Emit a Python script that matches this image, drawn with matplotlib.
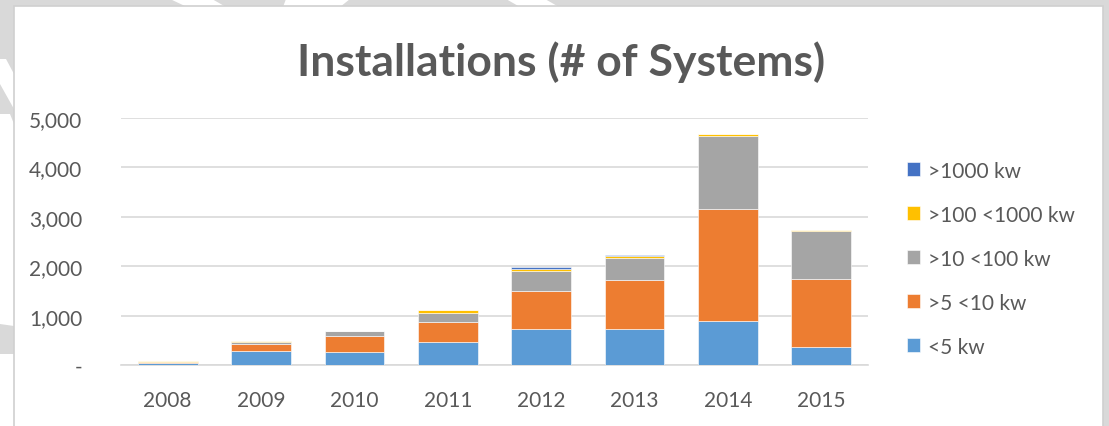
import matplotlib
matplotlib.use("Agg")
import matplotlib.pyplot as plt
from matplotlib.patches import Rectangle, Polygon
import numpy as np

years = ["2008", "2009", "2010", "2011", "2012", "2013", "2014", "2015"]
lt5 = [50, 276, 268, 458, 720, 726, 887, 369]
s5_10 = [10, 153, 311, 415, 786, 1002, 2278, 1371]
s10_100 = [5, 35, 106, 189, 395, 443, 1478, 968]
s100_1000 = [15, 20, 10, 47, 49, 41, 28, 20]
gt1000 = [0, 0, 0, 0, 26, 5, 5, 5]

series = [
    ("<5 kw", lt5, "#5B9BD5"),
    (">5 <10 kw", s5_10, "#ED7D31"),
    (">10 <100 kw", s10_100, "#A5A5A5"),
    (">100 <1000 kw", s100_1000, "#FFC000"),
    (">1000 kw", gt1000, "#4472C4"),
]

plt.rcParams['font.family'] = ['Lato', 'DejaVu Sans']
TXT = "#595959"

W, H = 1109, 427
fig = plt.figure(figsize=(W / 100, H / 100), dpi=100)
fig.patch.set_facecolor("#D9D9D9")

# watermark-like white strokes in the margin
for pts in [
    [(170, 0), (212, 0), (226, 8), (187, 8)],
    [(286, 0), (350, 0), (340, 8), (283, 8)],
    [(506, 0), (545, 0), (559, 8), (520, 8)],
    [(0, 60), (6, 60), (14, 75), (14, 110), (0, 85)],
]:
    fig.add_artist(Polygon([(x / W, 1 - y / H) for x, y in pts], closed=True,
                           transform=fig.transFigure, facecolor="white",
                           edgecolor="none", zorder=-20))
fig.add_artist(Polygon([(x / W, 1 - y / H) for x, y in
                        [(0, 115), (10, 115), (14, 125), (14, 327), (0, 325)]],
                       closed=True, transform=fig.transFigure,
                       facecolor="white", edgecolor="none", zorder=-20))
fig.add_artist(Rectangle((0, 0), 14 / W, (427 - 355) / H, transform=fig.transFigure,
                         facecolor="white", edgecolor="none", zorder=-20))

# white chart box
fig.add_artist(Rectangle((14 / W, -0.01), (1103 - 14) / W, 1.01 - 7 / H,
                         transform=fig.transFigure, facecolor="white",
                         edgecolor="#D0D0D0", linewidth=1.2, zorder=-10))

ax = fig.add_axes([121 / W, 1 - 366 / H, (868 - 121) / W, (366 - 119) / H])
ax.set_facecolor("none")

x = np.arange(len(years))
bottom = np.zeros(len(years))
handles = []
for name, vals, col in series:
    b = ax.bar(x, vals, 0.64, bottom=bottom, color=col, edgecolor="white",
               linewidth=0.4, label=name, zorder=3)
    handles.append(b)
    bottom += np.array(vals)

ax.set_xlim(-0.5, len(years) - 0.5)
ax.set_ylim(0, 5000)
ax.set_yticks([0, 1000, 2000, 3000, 4000, 5000])
ax.set_yticklabels(["-", "1,000", "2,000", "3,000", "4,000", "5,000"])
ax.set_xticks(x)
ax.set_xticklabels(years)
ax.tick_params(axis="both", length=0, colors=TXT, labelsize=15)
ax.tick_params(axis="y", pad=28)
ax.tick_params(axis="x", pad=18)
ax.grid(axis="y", color="#D9D9D9", linewidth=1.2, zorder=0)
for s in ["top", "right", "left"]:
    ax.spines[s].set_visible(False)
ax.spines["bottom"].set_color("#D9D9D9")
ax.spines["bottom"].set_linewidth(1.2)

fig.text(561 / W, 1 - 62 / H, "Installations (# of Systems)", ha="center", va="center",
         fontsize=32, fontweight="bold", color=TXT)

leg = fig.legend(handles[::-1], [s[0] for s in series][::-1], loc="upper left",
                 bbox_to_anchor=(888 / W, 1 - 143 / H), frameon=False, fontsize=15,
                 labelcolor=TXT, handlelength=0.65, handleheight=0.65, handletextpad=0.35,
                 labelspacing=1.15)

fig.savefig("out.png", dpi=100, facecolor=fig.get_facecolor())
